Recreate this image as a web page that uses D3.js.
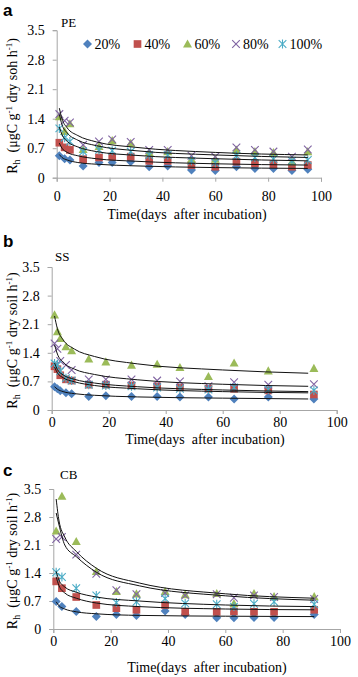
<!DOCTYPE html>
<html>
<head>
<meta charset="utf-8">
<script src="https://cdnjs.cloudflare.com/ajax/libs/d3/7.8.5/d3.min.js"></script>
<style>
  html, body { margin: 0; padding: 0; background: #fff; }
  svg { display: block; }
</style>
</head>
<body>
<div id="chart"></div>
<script>
// Séries / couleurs (style Excel)
const seriesNames  = ['20%', '40%', '60%', '80%', '100%']
const seriesColors = ['#4F81BD', '#C0504D', '#9BBB59', '#8064A2', '#4BACC6']
const yTicks = [0, 0.7, 1.4, 2.1, 2.8, 3.5]
const xTicks = [0, 20, 40, 60, 80, 100]

// a — PE
const daysPE  = [1, 3, 5, 10, 16, 21, 28, 35, 42, 51, 60, 68, 75, 82, 89, 95]
const pe20    = [0.52, 0.45, 0.42, 0.28, 0.36, 0.36, 0.38, 0.26, 0.28, 0.18, 0.17, 0.26, 0.22, 0.22, 0.17, 0.20]
const pe40    = [0.83, 0.72, 0.66, 0.44, 0.48, 0.50, 0.50, 0.40, 0.40, 0.30, 0.26, 0.38, 0.34, 0.32, 0.26, 0.30]
const pe60    = [1.45, 1.10, 1.28, 0.67, 0.74, 0.88, 0.82, 0.60, 0.62, 0.44, 0.44, 0.66, 0.62, 0.60, 0.38, 0.62]
const pe80    = [1.51, 1.35, 1.31, 0.78, 0.86, 0.91, 0.85, 0.66, 0.66, 0.52, 0.50, 0.72, 0.66, 0.62, 0.50, 0.67]
const pe100   = [1.17, 0.95, 0.86, 0.62, 0.66, 0.64, 0.62, 0.54, 0.54, 0.40, 0.36, 0.52, 0.48, 0.44, 0.40, 0.42]
// courbes d'ajustement
const fitDaysPE = [1, 2, 4, 8, 15, 30, 60, 95]
const fitPE20   = [0.55, 0.48, 0.42, 0.36, 0.32, 0.28, 0.24, 0.22]
const fitPE40   = [0.82, 0.70, 0.60, 0.52, 0.45, 0.39, 0.33, 0.30]
const fitPE60   = [1.50, 1.26, 1.06, 0.89, 0.76, 0.64, 0.54, 0.48]
const fitPE80   = [1.65, 1.40, 1.18, 1.00, 0.85, 0.72, 0.60, 0.54]
const fitPE100  = [1.20, 1.02, 0.86, 0.73, 0.62, 0.53, 0.45, 0.40]

// b — SS
const daysSS  = [1, 2, 3, 5, 7, 13, 19, 28, 37, 45, 55, 64, 76, 92]
const ss20    = [0.57, 0.52, 0.47, 0.42, 0.40, 0.33, 0.35, 0.33, 0.33, 0.32, 0.32, 0.27, 0.32, 0.27]
const ss40    = [1.07, 1.00, 0.85, 0.75, 0.72, 0.62, 0.62, 0.60, 0.58, 0.55, 0.52, 0.52, 0.48, 0.38]
const ss60    = [2.33, 1.92, 1.75, 1.55, 1.45, 1.25, 1.18, 1.10, 1.12, 1.04, 0.82, 1.15, 0.96, 1.02]
const ss80    = [1.63, 1.50, 1.20, 1.10, 0.98, 0.75, 0.75, 0.75, 0.72, 0.70, 0.58, 0.68, 0.62, 0.63]
const ss100   = [1.14, 1.10, 0.95, 0.78, 0.72, 0.62, 0.60, 0.58, 0.55, 0.52, 0.50, 0.55, 0.50, 0.48]
const fitDaysSS = [1, 2, 4, 8, 15, 30, 60, 90]
const fitSS20   = [0.57, 0.51, 0.45, 0.40, 0.36, 0.32, 0.29, 0.27]
const fitSS40   = [1.05, 0.91, 0.79, 0.69, 0.60, 0.52, 0.45, 0.42]
const fitSS60   = [2.30, 1.99, 1.72, 1.49, 1.31, 1.13, 0.98, 0.90]
const fitSS80   = [1.60, 1.37, 1.17, 1.00, 0.87, 0.74, 0.63, 0.58]
const fitSS100  = [1.15, 0.99, 0.86, 0.75, 0.66, 0.57, 0.49, 0.45]

// c — CB
const daysCB  = [1, 3, 8, 15, 22, 29, 39, 46, 57, 63, 70, 77, 91]
const cb20    = [0.69, 0.56, 0.44, 0.31, 0.36, 0.34, 0.45, 0.36, 0.28, 0.28, 0.29, 0.29, 0.36]
const cb40    = [1.19, 1.02, 0.80, 0.60, 0.52, 0.48, 0.60, 0.43, 0.43, 0.44, 0.43, 0.43, 0.48]
const cb60    = [2.45, 3.32, 2.19, 1.44, 0.94, 0.88, 0.94, 0.86, 0.89, 0.64, 0.89, 0.81, 0.81]
const cb80    = [2.25, 2.30, 1.86, 1.38, 0.97, 0.87, 0.90, 0.84, 0.87, 0.78, 0.84, 0.80, 0.75]
const cb100   = [1.42, 1.30, 1.02, 0.84, 0.66, 0.68, 0.76, 0.64, 0.62, 0.56, 0.63, 0.68, 0.62]
const fitDaysCB = [1, 2, 4, 8, 15, 30, 60, 91]
const fitCB20   = [0.68, 0.58, 0.50, 0.43, 0.38, 0.34, 0.32, 0.31]
const fitCB40   = [1.30, 1.08, 0.90, 0.77, 0.65, 0.56, 0.50, 0.48]
const fitCB60   = [3.25, 2.70, 2.30, 1.94, 1.52, 1.15, 0.88, 0.77]
const fitCB80   = [2.90, 2.60, 2.10, 1.81, 1.42, 1.08, 0.83, 0.72]
const fitCB100  = [1.44, 1.22, 1.05, 0.92, 0.80, 0.70, 0.60, 0.56]

const SERIF = "'Liberation Serif', 'Times New Roman', serif"
const SANS  = "'Liberation Sans', Arial, sans-serif"
const AXIS  = '#a6a6a6'

// Mise en page des trois panneaux (pixels)
const panels = [
  { letter: 'a', name: 'PE', soil: 'soh',  days: daysPE, values: [pe20, pe40, pe60, pe80, pe100],
    fitDays: fitDaysPE, fits: [fitPE20, fitPE40, fitPE60, fitPE80, fitPE100],
    x0: 56.7, x1: 321, yTop: 30.2, yBot: 177.7, letterY: 15.5, nameX: 61, nameY: 27,
    tickPad: 9, titleY: 219, titleX: 187, legend: true },
  { letter: 'b', name: 'SS', soil: 'soil', days: daysSS, values: [ss20, ss40, ss60, ss80, ss100],
    fitDays: fitDaysSS, fits: [fitSS20, fitSS40, fitSS60, fitSS80, fitSS100],
    x0: 51.7, x1: 336.7, yTop: 267, yBot: 410, letterY: 247, nameX: 55, nameY: 261,
    tickPad: 3, titleY: 444, titleX: 205, legend: false },
  { letter: 'c', name: 'CB', soil: 'soil', days: daysCB, values: [cb20, cb40, cb60, cb80, cb100],
    fitDays: fitDaysCB, fits: [fitCB20, fitCB40, fitCB60, fitCB80, fitCB100],
    x0: 53.3, x1: 340, yTop: 489, yBot: 629, letterY: 476, nameX: 60, nameY: 479,
    tickPad: 3, titleY: 672, titleX: 207, legend: false },
]

const svg = d3.select('#chart').append('svg')
  .attr('width', 358).attr('height', 677)
  .style('font-family', SERIF)

// Marqueurs style Excel
function drawMarker(sel, k, cx, cy, r) {
  const c = seriesColors[k]
  const g = sel.append('g').attr('transform', `translate(${cx},${cy})`)
  if (k === 0) {
    g.append('path').attr('d', `M0,${-r}L${r},0L0,${r}L${-r},0Z`).attr('fill', c)
  } else if (k === 1) {
    g.append('rect').attr('x', -r * 0.85).attr('y', -r * 0.85)
      .attr('width', r * 1.7).attr('height', r * 1.7).attr('fill', c)
  } else if (k === 2) {
    g.append('path').attr('d', `M0,${-r}L${r},${r * 0.8}L${-r},${r * 0.8}Z`).attr('fill', c)
  } else {
    const s = r * 0.85
    g.append('path')
      .attr('d', `M${-s},${-s}L${s},${s}M${-s},${s}L${s},${-s}` + (k === 4 ? `M0,${-r}L0,${r}` : ''))
      .attr('stroke', c).attr('stroke-width', 1.1).attr('fill', 'none')
  }
}

panels.forEach(p => {
  const x = d3.scaleLinear().domain([0, 100]).range([p.x0, p.x1])
  const y = d3.scaleLinear().domain([0, 3.5]).range([p.yBot, p.yTop])

  // lettre du panneau
  svg.append('text')
    .attr('x', 3).attr('y', p.letterY)
    .attr('font-family', SANS).attr('font-weight', 'bold').attr('font-size', 17)
    .attr('fill', '#000')
    .text(p.letter)

  // nom du sol
  svg.append('text')
    .attr('x', p.nameX).attr('y', p.nameY)
    .attr('font-size', 13).attr('fill', '#000')
    .text(p.name)

  // Axe X
  svg.append('g')
    .attr('transform', `translate(0,${p.yBot})`)
    .call(d3.axisBottom(x).tickValues(xTicks).tickSize(4).tickPadding(p.tickPad).tickFormat(d3.format('d')))
    .call(g => g.select('.domain').attr('stroke', AXIS))
    .call(g => g.selectAll('.tick line').attr('stroke', AXIS))
    .call(g => g.selectAll('.tick text').attr('fill', '#000').attr('font-size', 14).attr('font-family', SERIF))

  // Axe Y
  svg.append('g')
    .attr('transform', `translate(${p.x0},0)`)
    .call(d3.axisLeft(y).tickValues(yTicks).tickSize(4).tickPadding(8).tickFormat(d => d === 0 ? '0' : d3.format('.1f')(d)))
    .call(g => g.select('.domain').attr('stroke', AXIS))
    .call(g => g.selectAll('.tick line').attr('stroke', AXIS))
    .call(g => g.selectAll('.tick text').attr('fill', '#000').attr('font-size', 14).attr('font-family', SERIF))

  // Titre axe X
  svg.append('text')
    .attr('x', p.titleX).attr('y', p.titleY)
    .attr('text-anchor', 'middle').attr('font-size', 14).attr('fill', '#000')
    .attr('xml:space', 'preserve')
    .text('Time(days  after incubation)')

  // Titre axe Y (rotation)
  const yt = svg.append('text')
    .attr('transform', `translate(17,${(p.yTop + p.yBot) / 2 + 2}) rotate(-90)`)
    .attr('text-anchor', 'middle').attr('font-size', 14).attr('fill', '#000')
    .attr('xml:space', 'preserve')
  yt.append('tspan').text('R')
  yt.append('tspan').attr('font-size', 10).attr('dy', 3).text('h')
  yt.append('tspan').attr('dy', -3).text('  (μgC g')
  yt.append('tspan').attr('font-size', 9).attr('dy', -5).text('-1')
  yt.append('tspan').attr('dy', 5).text(` dry ${p.soil} h`)
  yt.append('tspan').attr('font-size', 9).attr('dy', -5).text('-1')
  yt.append('tspan').attr('dy', 5).text(')')

  // Points
  const pts = svg.append('g')
  p.values.forEach((vals, k) => {
    vals.forEach((v, i) => drawMarker(pts, k, x(p.days[i]), y(v), 4.5))
  })

  // Courbes d'ajustement — par-dessus les points
  const line = d3.line()
    .x(d => x(d[0])).y(d => y(d[1]))
    .curve(d3.curveMonotoneX)
  p.fits.forEach(f => {
    svg.append('path')
      .datum(p.fitDays.map((d, i) => [d, f[i]]))
      .attr('d', line)
      .attr('fill', 'none')
      .attr('stroke', '#111')
      .attr('stroke-width', 1)
  })

  // Légende (panneau a)
  if (p.legend) {
    const lx = [87.5, 137.5, 187.5, 236, 282.5]
    const lg = svg.append('g')
    seriesNames.forEach((n, k) => {
      drawMarker(lg, k, lx[k], 44, 4.5)
      lg.append('text')
        .attr('x', lx[k] + 7).attr('y', 49)
        .attr('font-size', 14).attr('fill', '#000')
        .text(n)
    })
  }
})
</script>
</body>
</html>
